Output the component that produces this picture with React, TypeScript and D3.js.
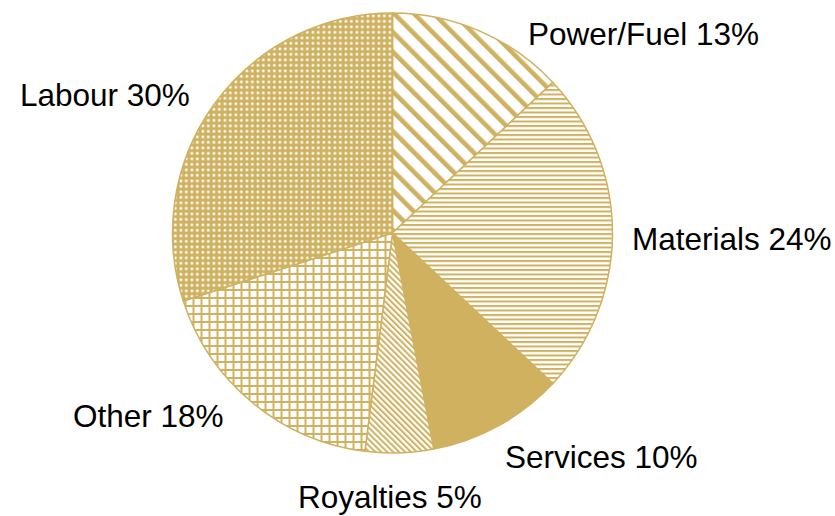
import React from "react";
import * as d3 from "d3";

const categories = ["Power/Fuel", "Materials", "Services", "Royalties", "Other", "Labour"];
const values = [13, 24, 10, 5, 18, 30];
const patterns = ["wideDiag", "hLines", "solid", "narrowDiag", "grid", "dense"];
const labelPos: [number, number][] = [
  [528, 45],
  [632, 250],
  [505, 468],
  [298, 508],
  [73, 427],
  [20, 106],
];

const GOLD = "#CFB160";
const W = 835;
const H = 516;
const CX = 392.5;
const CY = 233;
const R = 220;

export default function App() {
  const pie = d3.pie<number>().sort(null).value((d) => d)(values);
  const arc = d3.arc<d3.PieArcDatum<number>>().innerRadius(0).outerRadius(R);
  const fillFor = (p: string) => (p === "solid" ? GOLD : `url(#${p})`);
  return (
    <svg
      width={W}
      height={H}
      style={{ position: "absolute", left: 0, top: 0, background: "#fff" }}
    >
      <defs>
        <pattern id="wideDiag" patternUnits="userSpaceOnUse" width={14} height={14} patternTransform="rotate(-45)">
          <rect width={14} height={14} fill="#fff" />
          <rect x={0} y={0} width={4.6} height={14} fill={GOLD} />
        </pattern>
        <pattern id="narrowDiag" patternUnits="userSpaceOnUse" width={4.2} height={4.2} patternTransform="rotate(-45)">
          <rect width={4.2} height={4.2} fill="#fff" />
          <rect x={0} y={0} width={2} height={4.2} fill={GOLD} />
        </pattern>
        <pattern id="hLines" patternUnits="userSpaceOnUse" width={8} height={4.5}>
          <rect width={8} height={4.5} fill="#fff" />
          <rect x={0} y={0} width={8} height={2} fill={GOLD} />
        </pattern>
        <pattern id="grid" patternUnits="userSpaceOnUse" width={8} height={8}>
          <rect width={8} height={8} fill="#fff" />
          <rect x={0} y={0} width={8} height={2} fill={GOLD} shapeRendering="crispEdges" />
          <rect x={0} y={0} width={2} height={8} fill={GOLD} shapeRendering="crispEdges" />
        </pattern>
        <pattern id="dense" patternUnits="userSpaceOnUse" width={5.5} height={5.5}>
          <rect width={5.5} height={5.5} fill={GOLD} />
          <rect x={1.6} y={1.6} width={2.5} height={2.5} fill="#fff" />
        </pattern>
      </defs>
      <g transform={`translate(${CX},${CY})`}>
        {pie.map((d, i) => (
          <path
            key={categories[i]}
            d={arc(d) || ""}
            fill={fillFor(patterns[i])}
            stroke={GOLD}
            strokeWidth={1.5}
          />
        ))}
      </g>
      {categories.map((c, i) => (
        <text
          key={c}
          x={labelPos[i][0]}
          y={labelPos[i][1]}
          fontFamily="'Liberation Sans', Arial, sans-serif"
          fontSize={31.5}
          fill="#000"
        >
          {`${c} ${values[i]}%`}
        </text>
      ))}
    </svg>
  );
}
